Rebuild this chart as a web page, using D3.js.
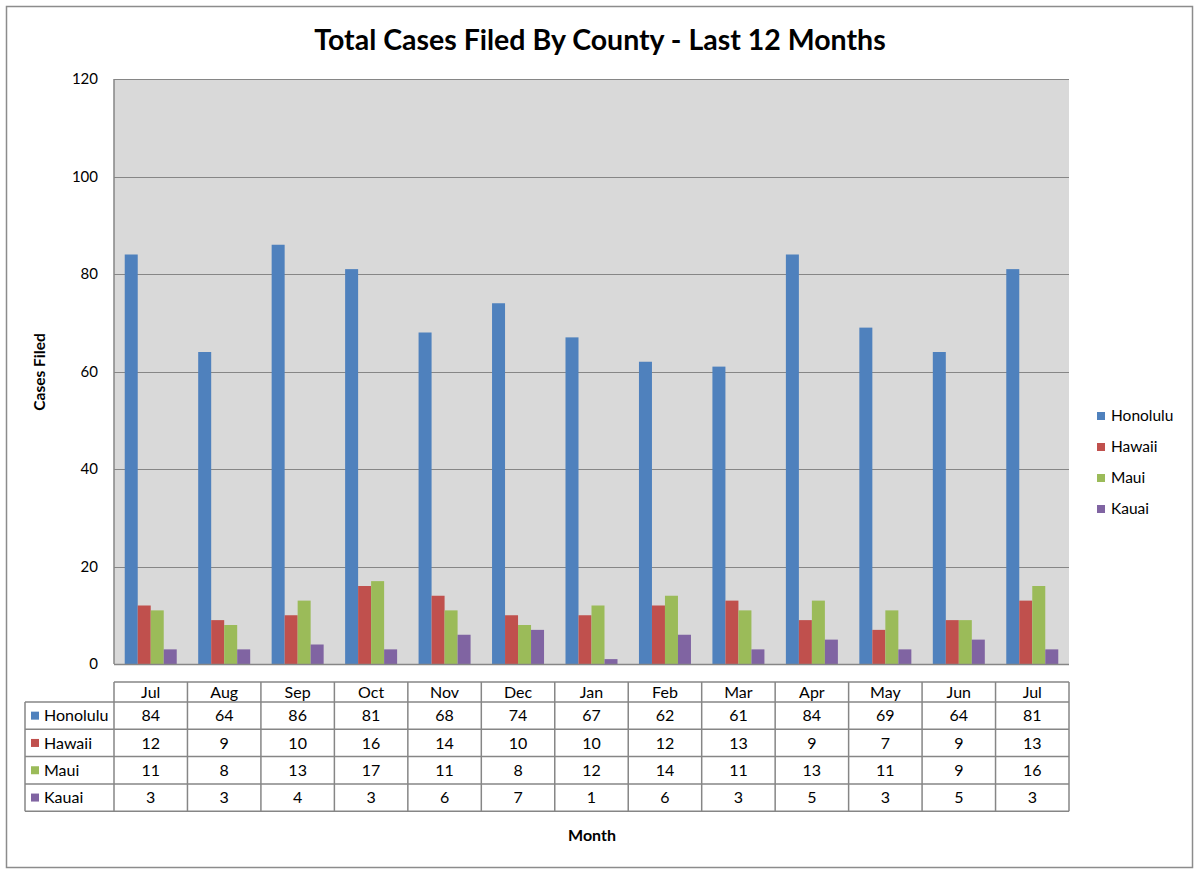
<!DOCTYPE html>
<html>
<head>
<meta charset="utf-8">
<script src="https://cdn.jsdelivr.net/npm/d3@7"></script>
<style>
  body { margin: 0; background: #fff; }
  svg text { font-family: Lato, "Open Sans", sans-serif; fill: #000; }
</style>
</head>
<body>
<div id="chart"></div>
<script>
// chart values
var months = ['Jul', 'Aug', 'Sep', 'Oct', 'Nov', 'Dec', 'Jan', 'Feb', 'Mar', 'Apr', 'May', 'Jun', 'Jul'];
var counties = ['Honolulu', 'Hawaii', 'Maui', 'Kauai'];
var honolulu = [84, 64, 86, 81, 68, 74, 67, 62, 61, 84, 69, 64, 81];
var hawaii = [12, 9, 10, 16, 14, 10, 10, 12, 13, 9, 7, 9, 13];
var maui = [11, 8, 13, 17, 11, 8, 12, 14, 11, 13, 11, 9, 16];
var kauai = [3, 3, 4, 3, 6, 7, 1, 6, 3, 5, 3, 5, 3];
var yTicks = [0, 20, 40, 60, 80, 100, 120];
var colors = ['#4f81bd', '#c0504d', '#9bbb59', '#8064a2'];

var series = [honolulu, hawaii, maui, kauai];

var width = 1200, height = 876;
var plot = {left: 114, right: 1069, top: 79, bottom: 664};
var gridColor = '#868686';

var svg = d3.select('#chart').append('svg')
    .attr('width', width)
    .attr('height', height);

// outer frame
svg.append('rect')
    .attr('x', 6.5).attr('y', 6.5)
    .attr('width', 1186).attr('height', 861)
    .attr('fill', '#fff')
    .attr('stroke', '#8c8c8c')
    .attr('stroke-width', 1.5);

svg.append('text')
    .attr('x', 600).attr('y', 50)
    .attr('text-anchor', 'middle')
    .style('font-size', '28.5px')
    .style('font-weight', 'bold')
    .text('Total Cases Filed By County - Last 12 Months');

var idx = d3.range(months.length);

var x0 = d3.scaleBand()
    .domain(idx)
    .range([plot.left, plot.right])
    .paddingInner(0);

var groupPad = (x0.bandwidth() - 52) / 2;
var x1 = d3.scaleBand()
    .domain(d3.range(counties.length))
    .range([groupPad, x0.bandwidth() - groupPad])
    .padding(0);

var y = d3.scaleLinear()
    .domain([0, 120])
    .range([plot.bottom, plot.top]);

// plot area
svg.append('rect')
    .attr('x', plot.left).attr('y', plot.top)
    .attr('width', plot.right - plot.left)
    .attr('height', plot.bottom - plot.top)
    .attr('fill', '#d9d9d9');

svg.append('g')
    .selectAll('line')
    .data(yTicks.filter(function(t) { return t > 0; }))
    .enter().append('line')
    .attr('x1', plot.left).attr('x2', plot.right)
    .attr('y1', function(d) { return Math.round(y(d)) + 0.5; })
    .attr('y2', function(d) { return Math.round(y(d)) + 0.5; })
    .attr('stroke', gridColor)
    .attr('stroke-width', 1.2);

// bars
var groups = svg.append('g')
    .selectAll('g')
    .data(idx)
    .enter().append('g')
    .attr('transform', function(i) { return 'translate(' + x0(i) + ',0)'; });

groups.selectAll('rect')
    .data(function(i) {
        return series.map(function(s, k) { return {k: k, v: s[i]}; });
    })
    .enter().append('rect')
    .attr('x', function(d) { return x1(d.k); })
    .attr('width', x1.bandwidth())
    .attr('y', function(d) { return y(d.v); })
    .attr('height', function(d) { return y(0) - y(d.v); })
    .attr('fill', function(d) { return colors[d.k]; });

// plot frame: left axis and bottom axis lines
svg.append('line')
    .attr('x1', plot.left).attr('x2', plot.left)
    .attr('y1', plot.top).attr('y2', plot.bottom)
    .attr('stroke', gridColor).attr('stroke-width', 1.5);
svg.append('line')
    .attr('x1', plot.left).attr('x2', plot.right)
    .attr('y1', plot.bottom + 0.5).attr('y2', plot.bottom + 0.5)
    .attr('stroke', gridColor).attr('stroke-width', 1.5);

// y axis labels
var yAxis = d3.axisLeft(y)
    .tickValues(yTicks)
    .tickSize(0)
    .tickPadding(16);

var yg = svg.append('g')
    .attr('transform', 'translate(' + plot.left + ',0)')
    .call(yAxis);
yg.select('.domain').remove();
yg.selectAll('text')
    .style('font-size', '15px')
    .style('font-family', 'Lato, "Open Sans", sans-serif')
    .attr('fill', '#000');

svg.append('text')
    .attr('transform', 'translate(45,372) rotate(-90)')
    .attr('text-anchor', 'middle')
    .style('font-size', '15.5px')
    .style('font-weight', 'bold')
    .text('Cases Filed');

// legend
var legend = svg.append('g')
    .selectAll('g')
    .data(counties)
    .enter().append('g')
    .attr('transform', function(d, i) { return 'translate(1097,' + (416 + i * 31) + ')'; });
legend.append('rect')
    .attr('x', 0).attr('y', -4)
    .attr('width', 8).attr('height', 8)
    .attr('fill', function(d, i) { return colors[i]; });
legend.append('text')
    .attr('x', 14).attr('y', 0)
    .attr('dy', '0.35em')
    .style('font-size', '15.5px')
    .text(function(d) { return d; });

// data table
var table = {top: 682, header: 20, row: 27.3, labelLeft: 25};
var tg = svg.append('g');
var lineStyle = function(sel) {
    return sel.attr('stroke', gridColor).attr('stroke-width', 1.5).attr('fill', 'none');
};
var tableBottom = table.top + table.header + table.row * counties.length;

// horizontal lines
tg.append('line').call(lineStyle)
    .attr('x1', plot.left).attr('x2', plot.right)
    .attr('y1', table.top).attr('y2', table.top);
d3.range(counties.length + 1).forEach(function(r) {
    var yy = table.top + table.header + r * table.row;
    tg.append('line').call(lineStyle)
        .attr('x1', table.labelLeft).attr('x2', plot.right)
        .attr('y1', yy).attr('y2', yy);
});
// vertical lines
tg.append('line').call(lineStyle)
    .attr('x1', table.labelLeft).attr('x2', table.labelLeft)
    .attr('y1', table.top + table.header).attr('y2', tableBottom);
idx.concat([months.length]).forEach(function(i) {
    var xx = i < months.length ? x0(i) : plot.right;
    tg.append('line').call(lineStyle)
        .attr('x1', xx).attr('x2', xx)
        .attr('y1', table.top).attr('y2', tableBottom);
});

tg.selectAll('.month')
    .data(idx)
    .enter().append('text')
    .attr('x', function(i) { return x0(i) + x0.bandwidth() / 2; })
    .attr('y', table.top + table.header / 2)
    .attr('dy', '0.35em')
    .attr('text-anchor', 'middle')
    .style('font-size', '16px')
    .text(function(i) { return months[i]; });

counties.forEach(function(c, r) {
    var cy = table.top + table.header + r * table.row + table.row / 2;
    tg.append('rect')
        .attr('x', 31).attr('y', cy - 4)
        .attr('width', 8).attr('height', 8)
        .attr('fill', colors[r]);
    tg.append('text')
        .attr('x', 44).attr('y', cy)
        .attr('dy', '0.35em')
        .style('font-size', '16px')
        .text(c);
    tg.selectAll('.v' + r)
        .data(series[r])
        .enter().append('text')
        .attr('x', function(v, i) { return x0(i) + x0.bandwidth() / 2; })
        .attr('y', cy)
        .attr('dy', '0.35em')
        .attr('text-anchor', 'middle')
        .style('font-size', '16px')
        .text(function(v) { return v; });
});

svg.append('text')
    .attr('x', 592).attr('y', 841)
    .attr('text-anchor', 'middle')
    .style('font-size', '16px')
    .style('font-weight', 'bold')
    .text('Month');
</script>
</body>
</html>
